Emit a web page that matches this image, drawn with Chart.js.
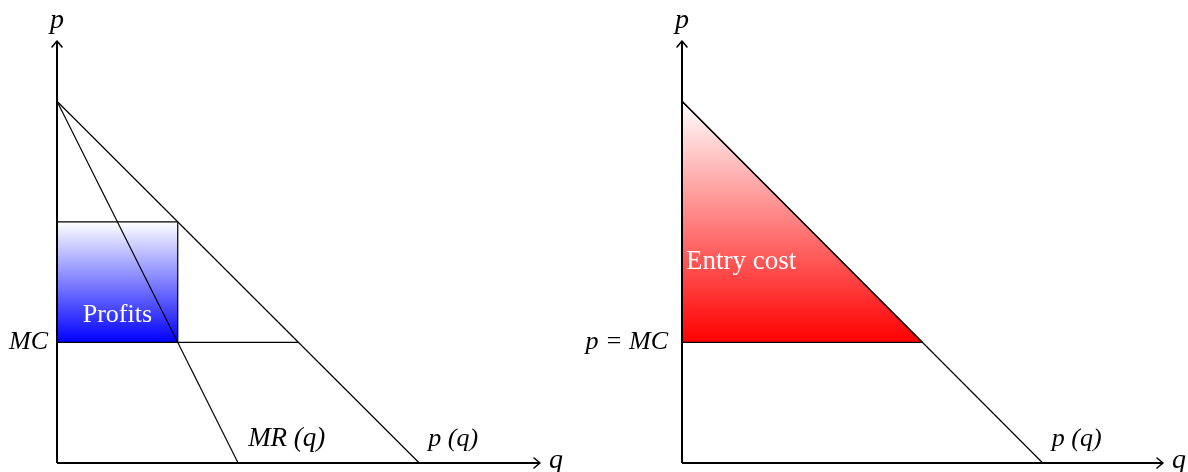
<!DOCTYPE html>
<html><head><meta charset="utf-8">
<script src="https://cdn.jsdelivr.net/npm/chart.js@4"></script>
<style>body{margin:0;background:#fff;}canvas{position:absolute;top:0;background:transparent;}</style>
</head><body>
<canvas id="c1" width="600" height="472" style="left:0"></canvas>
<canvas id="c2" width="628" height="472" style="left:560px"></canvas>
<script>
// Axis ranges (data units)
const qAxis = [0, 4];
const pAxis = [0, 3.5];
// Demand curve p(q): endpoints
const demandQ = [0, 3];
const demandP = [3, 0];
// Marginal revenue MR(q): endpoints
const mrQ = [0, 1.5];
const mrP = [3, 0];
// Marginal cost level
const mcLevel = 1;
// Monopoly quantity / price
const monoQ = 1;
const monoP = 2;
// Competitive quantity (p = MC)
const compQ = 2;

const serif = '"Liberation Serif", "DejaVu Serif", serif';

function pts(xs, ys){ return xs.map((x,i)=>({x:x,y:ys[i]})); }

function lineDs(data, width, extra){
  return Object.assign({type:'scatter', showLine:true, data:data, borderColor:'#000',
    borderWidth:width, pointRadius:0, fill:false, clip:false, tension:0}, extra||{});
}

function grad(color, pTop, pBottom){
  return function(ctx){
    const ch = ctx.chart; if(!ch.chartArea) return color;
    const y = ch.scales.y;
    const g = ch.ctx.createLinearGradient(0, y.getPixelForValue(pTop), 0, y.getPixelForValue(pBottom));
    g.addColorStop(0, '#ffffff'); g.addColorStop(1, color);
    return g;
  };
}

function decor(labels){
  return {
    id:'decor',
    afterDatasetsDraw(chart){
      const c = chart.ctx, X = chart.scales.x, Y = chart.scales.y;
      const ox = X.getPixelForValue(0), oy = Y.getPixelForValue(0);
      const tx = X.getPixelForValue(qAxis[1]), ty = Y.getPixelForValue(pAxis[1]);
      c.save();
      c.strokeStyle = '#000'; c.lineWidth = 1.6; c.lineCap='round'; c.lineJoin='round';
      c.beginPath(); c.moveTo(tx-6, oy-5); c.lineTo(tx, oy); c.lineTo(tx-6, oy+5); c.stroke();
      c.beginPath(); c.moveTo(ox-5, ty+6); c.lineTo(ox, ty); c.lineTo(ox+5, ty+6); c.stroke();
      labels.forEach(l=>{
        c.font = (l.italic?'italic ':'') + l.size + 'px ' + serif;
        c.fillStyle = l.color || '#000';
        c.textAlign = l.align || 'left';
        c.textBaseline = 'middle';
        c.fillText(l.text, X.getPixelForValue(l.q) + (l.dx||0), Y.getPixelForValue(l.p) + (l.dy||0));
      });
      c.restore();
    }
  };
}

function baseOptions(padLeft, padRight){
  return {
    responsive:false, animation:false, devicePixelRatio:1,
    layout:{padding:{left:padLeft, right:padRight, top:41, bottom:9}},
    plugins:{legend:{display:false}, tooltip:{enabled:false}, filler:{drawTime:'beforeDatasetsDraw'}},
    scales:{
      x:{type:'linear', min:qAxis[0], max:qAxis[1], display:false},
      y:{type:'linear', min:pAxis[0], max:pAxis[1], display:false}
    }
  };
}

// Left panel: monopoly
new Chart(document.getElementById('c1'), {
  type:'scatter',
  data:{datasets:[
    lineDs(pts([0,monoQ],[monoP,monoP]), 1.2, {fill:{value:mcLevel}, backgroundColor:grad('#0000ff', monoP, mcLevel)}),
    lineDs(pts([monoQ,monoQ],[monoP,mcLevel]), 1.2),
    lineDs(pts([0,compQ],[mcLevel,mcLevel]), 1.2),
    lineDs(pts(demandQ, demandP), 1.2),
    lineDs(pts(mrQ, mrP), 1.2),
    lineDs(pts([0,qAxis[1]],[0,0]), 2),
    lineDs(pts([0,0],[0,pAxis[1]]), 2)
  ]},
  options:baseOptions(57, 60),
  plugins:[decor([
    {text:'p', q:0, p:pAxis[1], dy:-20, align:'center', italic:true, size:28},
    {text:'q', q:qAxis[1], p:0, dx:9, dy:-2, italic:true, size:28},
    {text:'MC', q:0, p:mcLevel, dx:-9, align:'right', italic:true, size:26},
    {text:'Profits', q:monoQ/2, p:mcLevel, dy:-27, align:'center', color:'#fff', size:26},
    {text:'MR (q)', q:mrQ[1], p:0, dx:10, dy:-24, italic:true, size:27},
    {text:'p (q)', q:demandQ[1], p:0, dx:9, dy:-24, italic:true, size:26}
  ])]
});

// Right panel: competition / entry cost
new Chart(document.getElementById('c2'), {
  type:'scatter',
  data:{datasets:[
    lineDs(pts([0,compQ],[demandP[0],mcLevel]), 1.2, {fill:{value:mcLevel}, backgroundColor:grad('#ff0000', demandP[0], mcLevel)}),
    lineDs(pts([0,compQ],[mcLevel,mcLevel]), 1.2),
    lineDs(pts(demandQ, demandP), 1.2),
    lineDs(pts([0,qAxis[1]],[0,0]), 2),
    lineDs(pts([0,0],[0,pAxis[1]]), 2)
  ]},
  options:baseOptions(122, 25),
  plugins:[decor([
    {text:'p', q:0, p:pAxis[1], dy:-20, align:'center', italic:true, size:28},
    {text:'q', q:qAxis[1], p:0, dx:9, dy:-2, italic:true, size:28},
    {text:'p = MC', q:0, p:mcLevel, dx:-14, align:'right', italic:true, size:26},
    {text:'Entry cost', q:0, p:1.67, dx:4, align:'left', color:'#fff', size:27},
    {text:'p (q)', q:demandQ[1], p:0, dx:9, dy:-24, italic:true, size:26}
  ])]
});
</script>
</body></html>
